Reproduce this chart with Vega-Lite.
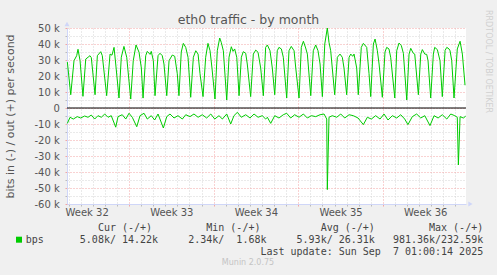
{
"$schema": "https://vega.github.io/schema/vega-lite/v6.json",
"width": 399, "height": 176,
"autosize": {"type": "none"},
"padding": {"left": 67, "top": 28, "right": 31, "bottom": 71},
"background": "#f0f0f0",
"title": {"text": "Munin 2.0.75", "orient": "bottom", "anchor": "middle", "frame": "group", "dx": -18.5, "offset": 2, "fontSize": 8, "font": "DejaVu Sans", "fontWeight": "normal", "color": "#c4c4c4"},
"config": {"view": {"fill": "#ffffff", "stroke": null}, "axis": {"labelFont": "DejaVu Sans", "titleFont": "DejaVu Sans", "titleFontWeight": "normal"}},
"resolve": {"axis": {"x": "independent", "y": "independent"}},
"layer": [
{
"data": {"values": [
{"t":1.9,"dir":"out","bps":28700},{"t":2.18,"dir":"out","bps":8300},{"t":2.45,"dir":"out","bps":29600},{"t":2.67,"dir":"out","bps":32700},{"t":2.78,"dir":"out","bps":36700},{"t":2.95,"dir":"out","bps":29600},{"t":3.19,"dir":"out","bps":7300},
{"t":3.42,"dir":"out","bps":30600},{"t":3.61,"dir":"out","bps":31700},{"t":3.77,"dir":"out","bps":32700},{"t":3.88,"dir":"out","bps":31500},{"t":4.19,"dir":"out","bps":8300},
{"t":4.38,"dir":"out","bps":32700},{"t":4.66,"dir":"out","bps":35200},{"t":4.79,"dir":"out","bps":32700},{"t":5.15,"dir":"out","bps":7700},
{"t":5.43,"dir":"out","bps":33700},{"t":5.59,"dir":"out","bps":33000},{"t":5.76,"dir":"out","bps":37900},{"t":5.9,"dir":"out","bps":27500},{"t":6.17,"dir":"out","bps":6250},
{"t":6.36,"dir":"out","bps":31700},{"t":6.58,"dir":"out","bps":38500},{"t":6.81,"dir":"out","bps":31700},{"t":7.14,"dir":"out","bps":5600},
{"t":7.35,"dir":"out","bps":29600},{"t":7.58,"dir":"out","bps":39400},{"t":7.83,"dir":"out","bps":34800},{"t":8.02,"dir":"out","bps":25000},{"t":8.16,"dir":"out","bps":6200},
{"t":8.38,"dir":"out","bps":32700},{"t":8.51,"dir":"out","bps":35400},{"t":8.74,"dir":"out","bps":33500},{"t":8.84,"dir":"out","bps":35400},{"t":9.01,"dir":"out","bps":29600},{"t":9.15,"dir":"out","bps":7700},
{"t":9.4,"dir":"out","bps":32700},{"t":9.56,"dir":"out","bps":34200},{"t":9.75,"dir":"out","bps":32700},{"t":9.89,"dir":"out","bps":27500},{"t":10.12,"dir":"out","bps":7700},
{"t":10.31,"dir":"out","bps":29600},{"t":10.58,"dir":"out","bps":33100},{"t":10.78,"dir":"out","bps":32300},{"t":10.99,"dir":"out","bps":21500},{"t":11.13,"dir":"out","bps":7700},
{"t":11.32,"dir":"out","bps":35000},{"t":11.49,"dir":"out","bps":40400},{"t":11.69,"dir":"out","bps":37900},{"t":11.88,"dir":"out","bps":31700},{"t":12.1,"dir":"out","bps":6700},
{"t":12.32,"dir":"out","bps":31700},{"t":12.52,"dir":"out","bps":35800},{"t":12.71,"dir":"out","bps":33700},{"t":12.87,"dir":"out","bps":21500},{"t":13.12,"dir":"out","bps":7100},
{"t":13.34,"dir":"out","bps":31700},{"t":13.53,"dir":"out","bps":40400},{"t":13.7,"dir":"out","bps":35800},{"t":13.86,"dir":"out","bps":25000},{"t":14.11,"dir":"out","bps":5600},
{"t":14.3,"dir":"out","bps":35800},{"t":14.5,"dir":"out","bps":43750},{"t":14.63,"dir":"out","bps":41000},{"t":14.8,"dir":"out","bps":35800},{"t":15.08,"dir":"out","bps":5000},
{"t":15.27,"dir":"out","bps":31700},{"t":15.46,"dir":"out","bps":38300},{"t":15.6,"dir":"out","bps":35400},{"t":15.74,"dir":"out","bps":36900},{"t":15.91,"dir":"out","bps":31700},{"t":16.1,"dir":"out","bps":7700},
{"t":16.29,"dir":"out","bps":31700},{"t":16.45,"dir":"out","bps":35200},{"t":16.65,"dir":"out","bps":34200},{"t":16.78,"dir":"out","bps":27500},{"t":17.06,"dir":"out","bps":7100},
{"t":17.28,"dir":"out","bps":33700},{"t":17.48,"dir":"out","bps":36200},{"t":17.67,"dir":"out","bps":34800},{"t":17.89,"dir":"out","bps":25000},{"t":18.11,"dir":"out","bps":7700},
{"t":18.3,"dir":"out","bps":37900},{"t":18.44,"dir":"out","bps":39400},{"t":18.66,"dir":"out","bps":35800},{"t":18.85,"dir":"out","bps":25000},{"t":19.05,"dir":"out","bps":8300},
{"t":19.26,"dir":"out","bps":35800},{"t":19.4,"dir":"out","bps":37900},{"t":19.6,"dir":"out","bps":36900},{"t":19.76,"dir":"out","bps":31700},{"t":20.04,"dir":"out","bps":6250},
{"t":20.23,"dir":"out","bps":35800},{"t":20.42,"dir":"out","bps":38500},{"t":20.65,"dir":"out","bps":35800},{"t":20.79,"dir":"out","bps":25000},{"t":21.06,"dir":"out","bps":6250},
{"t":21.25,"dir":"out","bps":37900},{"t":21.42,"dir":"out","bps":41700},{"t":21.61,"dir":"out","bps":37500},{"t":21.75,"dir":"out","bps":33700},{"t":22.03,"dir":"out","bps":7700},
{"t":22.24,"dir":"out","bps":35800},{"t":22.44,"dir":"out","bps":39400},{"t":22.63,"dir":"out","bps":35800},{"t":22.8,"dir":"out","bps":27500},{"t":22.99,"dir":"out","bps":7100},
{"t":23.19,"dir":"out","bps":40000},{"t":23.4,"dir":"out","bps":50000},{"t":23.54,"dir":"out","bps":41000},{"t":23.68,"dir":"out","bps":35800},{"t":23.81,"dir":"out","bps":25000},{"t":24.01,"dir":"out","bps":8300},
{"t":24.23,"dir":"out","bps":31700},{"t":24.45,"dir":"out","bps":33700},{"t":24.64,"dir":"out","bps":31700},{"t":24.78,"dir":"out","bps":25000},{"t":25.0,"dir":"out","bps":8300},
{"t":25.2,"dir":"out","bps":31700},{"t":25.34,"dir":"out","bps":33700},{"t":25.5,"dir":"out","bps":32300},{"t":25.61,"dir":"out","bps":33700},{"t":25.83,"dir":"out","bps":25000},{"t":25.96,"dir":"out","bps":8300},
{"t":26.21,"dir":"out","bps":37900},{"t":26.38,"dir":"out","bps":40400},{"t":26.66,"dir":"out","bps":37900},{"t":26.85,"dir":"out","bps":21500},{"t":26.99,"dir":"out","bps":7100},
{"t":27.21,"dir":"out","bps":40000},{"t":27.35,"dir":"out","bps":43100},{"t":27.54,"dir":"out","bps":35800},{"t":27.68,"dir":"out","bps":27500},{"t":27.95,"dir":"out","bps":6700},
{"t":28.17,"dir":"out","bps":35000},{"t":28.31,"dir":"out","bps":37900},{"t":28.5,"dir":"out","bps":36900},{"t":28.64,"dir":"out","bps":31700},{"t":28.98,"dir":"out","bps":6250},
{"t":29.14,"dir":"out","bps":35800},{"t":29.33,"dir":"out","bps":40600},{"t":29.52,"dir":"out","bps":39000},{"t":29.69,"dir":"out","bps":34200},{"t":29.97,"dir":"out","bps":5000},
{"t":30.16,"dir":"out","bps":33700},{"t":30.3,"dir":"out","bps":37300},{"t":30.51,"dir":"out","bps":34200},{"t":30.63,"dir":"out","bps":33700},{"t":30.93,"dir":"out","bps":8300},
{"t":31.13,"dir":"out","bps":33700},{"t":31.26,"dir":"out","bps":36500},{"t":31.46,"dir":"out","bps":33700},{"t":31.62,"dir":"out","bps":33500},{"t":31.73,"dir":"out","bps":29600},{"t":31.95,"dir":"out","bps":6250},
{"t":32.17,"dir":"out","bps":33700},{"t":32.28,"dir":"out","bps":37900},{"t":32.5,"dir":"out","bps":36500},{"t":32.72,"dir":"out","bps":29600},{"t":32.91,"dir":"out","bps":7100},
{"t":33.14,"dir":"out","bps":36000},{"t":33.28,"dir":"out","bps":37900},{"t":33.47,"dir":"out","bps":36900},{"t":33.55,"dir":"out","bps":35800},{"t":33.69,"dir":"out","bps":29600},{"t":33.88,"dir":"out","bps":6250},
{"t":34.15,"dir":"out","bps":36900},{"t":34.38,"dir":"out","bps":41700},{"t":34.57,"dir":"out","bps":33700},{"t":34.79,"dir":"out","bps":14220},
{"t":1.9,"dir":"in","bps":-9600},{"t":2.12,"dir":"in","bps":-5800},{"t":2.39,"dir":"in","bps":-6900},{"t":2.72,"dir":"in","bps":-5400},{"t":3.0,"dir":"in","bps":-6250},{"t":3.33,"dir":"in","bps":-5000},{"t":3.61,"dir":"in","bps":-5800},{"t":3.88,"dir":"in","bps":-4400},{"t":4.16,"dir":"in","bps":-6900},{"t":4.43,"dir":"in","bps":-4800},
{"t":4.71,"dir":"in","bps":-5800},{"t":4.99,"dir":"in","bps":-3750},{"t":5.26,"dir":"in","bps":-5800},{"t":5.53,"dir":"in","bps":-4800},{"t":5.9,"dir":"in","bps":-12000},{"t":6.09,"dir":"in","bps":-5400},{"t":6.44,"dir":"in","bps":-4200},{"t":6.73,"dir":"in","bps":-6900},{"t":7.0,"dir":"in","bps":-3300},{"t":7.27,"dir":"in","bps":-5800},
{"t":7.64,"dir":"in","bps":-11700},{"t":7.91,"dir":"in","bps":-4800},{"t":8.24,"dir":"in","bps":-3300},{"t":8.51,"dir":"in","bps":-6900},{"t":8.84,"dir":"in","bps":-4800},{"t":9.12,"dir":"in","bps":-7500},{"t":9.4,"dir":"in","bps":-3750},{"t":9.84,"dir":"in","bps":-12500},{"t":10.12,"dir":"in","bps":-5400},{"t":10.39,"dir":"in","bps":-3750},
{"t":10.72,"dir":"in","bps":-6250},{"t":11.05,"dir":"in","bps":-4800},{"t":11.41,"dir":"in","bps":-6900},{"t":11.69,"dir":"in","bps":-4200},{"t":12.04,"dir":"in","bps":-5400},{"t":12.37,"dir":"in","bps":-3750},{"t":12.71,"dir":"in","bps":-5800},{"t":13.06,"dir":"in","bps":-4200},{"t":13.42,"dir":"in","bps":-6250},{"t":13.76,"dir":"in","bps":-3750},
{"t":14.09,"dir":"in","bps":-6900},{"t":14.44,"dir":"in","bps":-4800},{"t":14.72,"dir":"in","bps":-6900},{"t":15.08,"dir":"in","bps":-3750},{"t":15.41,"dir":"in","bps":-10000},{"t":15.68,"dir":"in","bps":-4800},{"t":15.96,"dir":"in","bps":-2700},{"t":16.29,"dir":"in","bps":-5800},{"t":16.65,"dir":"in","bps":-4200},{"t":17.01,"dir":"in","bps":-6250},
{"t":17.34,"dir":"in","bps":-3750},{"t":17.67,"dir":"in","bps":-5800},{"t":18.02,"dir":"in","bps":-4800},{"t":18.3,"dir":"in","bps":-6900},{"t":18.44,"dir":"in","bps":-5800},{"t":18.72,"dir":"in","bps":-9600},{"t":19.05,"dir":"in","bps":-4800},{"t":19.4,"dir":"in","bps":-6250},{"t":19.76,"dir":"in","bps":-4200},{"t":20.04,"dir":"in","bps":-3300},
{"t":20.37,"dir":"in","bps":-6250},{"t":20.7,"dir":"in","bps":-4200},{"t":21.06,"dir":"in","bps":-5800},{"t":21.42,"dir":"in","bps":-3750},{"t":21.75,"dir":"in","bps":-6250},{"t":22.08,"dir":"in","bps":-4800},{"t":22.44,"dir":"in","bps":-5400},{"t":22.8,"dir":"in","bps":-4200},{"t":23.13,"dir":"in","bps":-3750},{"t":23.35,"dir":"in","bps":-6900},
{"t":23.4,"dir":"in","bps":-51000},{"t":23.54,"dir":"in","bps":-5800},{"t":23.81,"dir":"in","bps":-4800},{"t":24.18,"dir":"in","bps":-5800},{"t":24.51,"dir":"in","bps":-3750},{"t":24.84,"dir":"in","bps":-6250},{"t":25.2,"dir":"in","bps":-4200},{"t":25.55,"dir":"in","bps":-4800},{"t":25.94,"dir":"in","bps":-6250},{"t":26.38,"dir":"in","bps":-10400},
{"t":26.71,"dir":"in","bps":-5800},{"t":27.04,"dir":"in","bps":-6900},{"t":27.4,"dir":"in","bps":-4800},{"t":27.76,"dir":"in","bps":-6900},{"t":28.09,"dir":"in","bps":-3750},{"t":28.42,"dir":"in","bps":-7500},{"t":28.78,"dir":"in","bps":-4800},{"t":29.14,"dir":"in","bps":-6250},{"t":29.47,"dir":"in","bps":-4200},{"t":29.8,"dir":"in","bps":-6900},
{"t":30.07,"dir":"in","bps":-10400},{"t":30.43,"dir":"in","bps":-5400},{"t":30.79,"dir":"in","bps":-3750},{"t":31.13,"dir":"in","bps":-6250},{"t":31.46,"dir":"in","bps":-4800},{"t":31.89,"dir":"in","bps":-11000},{"t":32.23,"dir":"in","bps":-4800},{"t":32.56,"dir":"in","bps":-6250},{"t":32.91,"dir":"in","bps":-4200},{"t":33.28,"dir":"in","bps":-6900},
{"t":33.61,"dir":"in","bps":-3750},{"t":33.94,"dir":"in","bps":-4800},{"t":34.15,"dir":"in","bps":-5800},{"t":34.24,"dir":"in","bps":-35600},{"t":34.38,"dir":"in","bps":-5400},{"t":34.65,"dir":"in","bps":-6250},{"t":34.85,"dir":"in","bps":-5080}
]},
"mark": {"type": "line", "strokeWidth": 1},
"encoding": {
"x": {"field": "t", "type": "quantitative", "scale": {"domain": [1.87, 34.87], "nice": false, "zero": false},
 "axis": {"orient": "bottom", "values": [2,3,4,5,6,7,8,9,10,11,12,13,14,15,16,17,18,19,20,21,22,23,24,25,26,27,28,29,30,31,32,33,34],
  "grid": true, "gridColor": {"condition": {"test": "datum.value % 7 === 0", "value": "#f3a5a5"}, "value": "#d4d4d4"}, "gridDash": [1, 2],
  "tickSize": 2, "tickColor": {"condition": {"test": "datum.value % 7 === 0", "value": "#f3a5a5"}, "value": "#bbbbbb"},
  "domainColor": "#cfd6f8",
  "labelExpr": "datum.value % 7 === 3 ? 'Week ' + (32 + floor(datum.value / 7)) : ''",
  "labelOffset": 6, "labelFontSize": 10, "labelColor": "#555555", "labelPadding": 1, "labelFlush": false, "labelOverlap": false,
  "title": ["Cur (-/+)\u00a0\u00a0\u00a0\u00a0\u00a0\u00a0\u00a0\u00a0\u00a0Min (-/+)\u00a0\u00a0\u00a0\u00a0\u00a0\u00a0\u00a0\u00a0\u00a0\u00a0Avg (-/+)\u00a0\u00a0\u00a0\u00a0\u00a0\u00a0\u00a0\u00a0\u00a0Max (-/+)\u00a0",
   "bps\u00a0\u00a0\u00a0\u00a0\u00a0\u00a05.08k/\u00a014.22k\u00a0\u00a0\u00a0\u00a0\u00a02.34k/\u00a0\u00a01.68k\u00a0\u00a0\u00a0\u00a0\u00a05.93k/\u00a026.31k\u00a0\u00a0\u00a0981.36k/232.59k",
   "Last update: Sun Sep\u00a0\u00a07 01:00:14 2025"],
  "titleFont": "DejaVu Sans Mono", "titleFontSize": 10, "titleLineHeight": 12, "titleColor": "#444444",
  "titleAlign": "right", "titleAnchor": "end", "titleBaseline": "top", "titleX": 415.7, "titleY": 18.7}},
"y": {"field": "bps", "type": "quantitative", "scale": {"domain": [-60000, 50000], "nice": false, "zero": false},
 "axis": {"orient": "left", "values": [-60000,-55000,-50000,-45000,-40000,-35000,-30000,-25000,-20000,-15000,-10000,-5000,0,5000,10000,15000,20000,25000,30000,35000,40000,45000,50000],
  "grid": true, "gridColor": {"condition": {"test": "datum.value % 10000 === 0", "value": "#f3a5a5"}, "value": "#d4d4d4"}, "gridDash": [1, 2],
  "tickSize": 2, "tickColor": {"condition": {"test": "datum.value % 10000 === 0", "value": "#f3a5a5"}, "value": "#bbbbbb"},
  "domainColor": "#cfd6f8",
  "labelExpr": "datum.value % 10000 !== 0 ? '' : (datum.value === 0 ? '0' : (datum.value / 1000) + ' k')",
  "labelFontSize": 10, "labelColor": "#555555", "labelPadding": 5.7, "labelOverlap": false, "labelFlush": false,
  "title": "bits in (-) / out (+) per second", "titleFontSize": 11, "titleColor": "#555555",
  "titleAngle": 270, "titleAlign": "center", "titleBaseline": "middle", "titleX": -56.5, "titleY": 88}},
"detail": {"field": "dir"},
"color": {"datum": "bps", "scale": {"range": ["#00cc00"]},
 "legend": {"orient": "none", "legendX": -53, "legendY": 206.7, "title": null, "labelExpr": "''", "padding": 0,
  "symbolType": "square", "symbolSize": 36, "symbolStrokeWidth": 0,
  "encode": {"symbols": {"update": {"fill": {"value": "#00cc00"}, "stroke": {"value": "#00cc00"}, "strokeWidth": {"value": 0}, "shape": {"value": "square"}, "size": {"value": 36}}}}}}
}
},
{
"data": {"values": [{}]},
"mark": {"type": "rule", "color": "#000000", "strokeWidth": 1},
"encoding": {"y": {"datum": 0, "type": "quantitative", "scale": {"domain": [-60000, 50000], "nice": false, "zero": false}, "axis": null}}
},
{
"data": {"values": [{}]},
"mark": {"type": "point", "shape": "triangle-up", "filled": true, "color": "#cfd6f8", "size": 25, "opacity": 1},
"encoding": {
"x": {"datum": 1.87, "type": "quantitative", "scale": {"domain": [1.87, 34.87], "nice": false, "zero": false},
 "axis": {"orient": "top", "labels": false, "ticks": false, "domain": false, "grid": false,
  "title": "eth0 traffic - by month", "titleFontSize": 12.5, "titleColor": "#555555", "titleAlign": "center", "titleBaseline": "middle", "titleAngle": 0, "titleX": 181, "titleY": -9}},
"y": {"datum": 52500, "type": "quantitative", "scale": {"domain": [-60000, 50000], "nice": false, "zero": false},
 "axis": {"orient": "right", "labels": false, "ticks": false, "domain": false, "grid": false,
  "title": "RRDTOOL / TOBI OETIKER", "titleFontSize": 8, "titleColor": "#d0d0d0", "titleAlign": "center", "titleBaseline": "middle", "titleAngle": 90, "titleX": 21.5, "titleY": 33}}
}
},
{
"data": {"values": [{}]},
"mark": {"type": "point", "shape": "triangle-right", "filled": true, "color": "#cfd6f8", "size": 25, "opacity": 1},
"encoding": {
"x": {"datum": 35.24, "type": "quantitative", "scale": {"domain": [1.87, 34.87], "nice": false, "zero": false}, "axis": null},
"y": {"datum": -60000, "type": "quantitative", "scale": {"domain": [-60000, 50000], "nice": false, "zero": false}, "axis": null}
}
}
]
}
